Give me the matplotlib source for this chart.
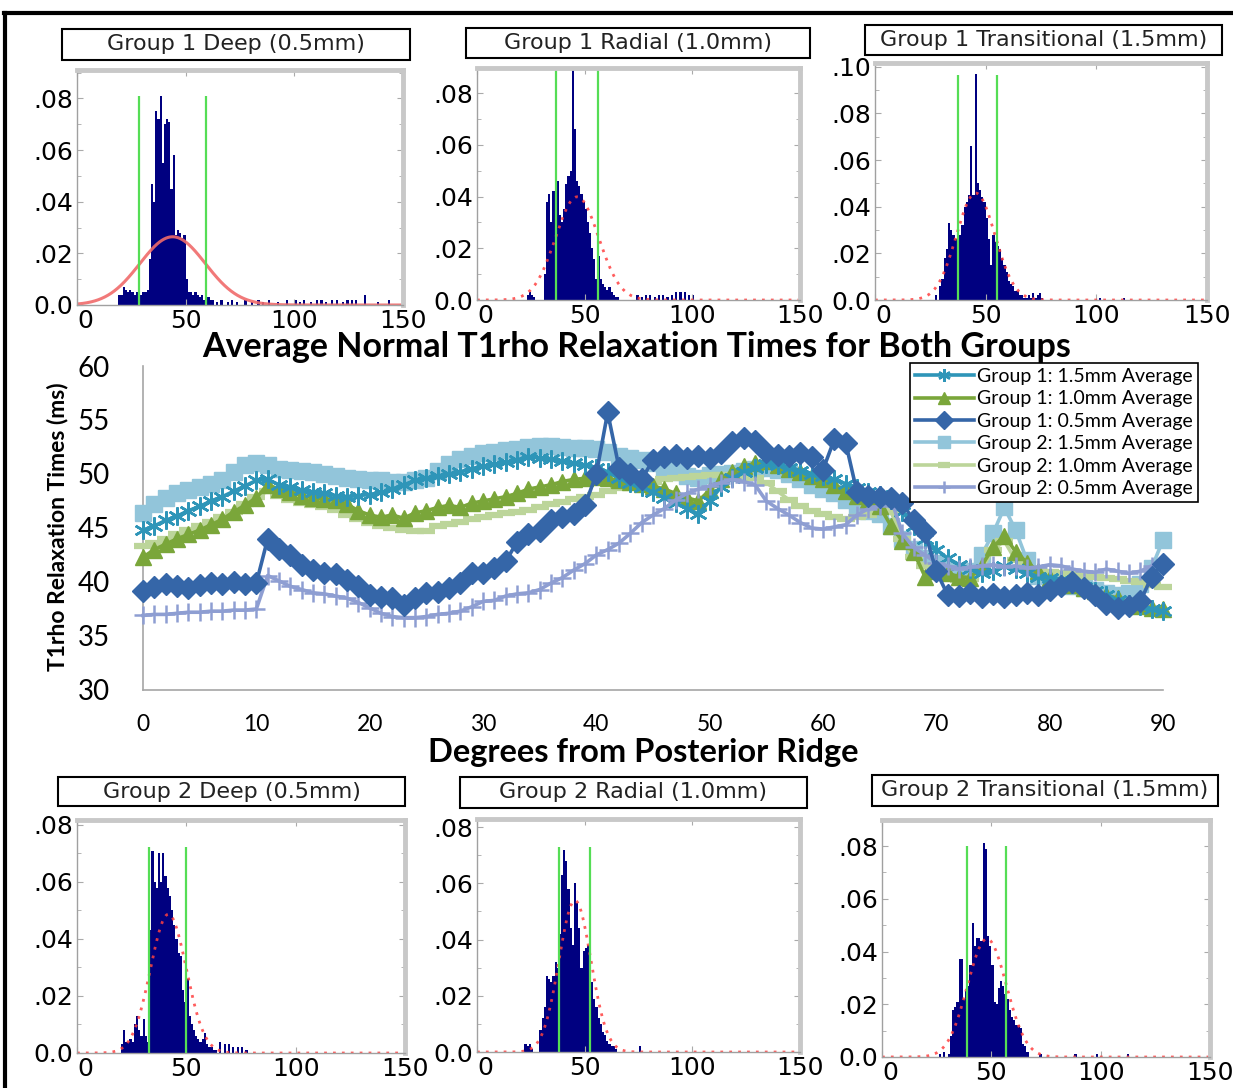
import numpy as np
import matplotlib
matplotlib.use('Agg')
import matplotlib.pyplot as plt
from matplotlib.lines import Line2D
from matplotlib.patches import Rectangle
from matplotlib.ticker import FuncFormatter, MultipleLocator

W, H = 1233, 1088

# ---- main chart data (one value per degree, 0..90) ----
degrees = np.arange(0, 91)
g1_15mm = [44.8, 45.2, 45.7, 46.1, 46.6, 47.0, 47.5, 47.9, 48.4, 48.9, 49.4,
           49.5, 49.0, 48.8, 48.5, 48.3, 48.2, 48.0, 47.9, 48.0, 48.1,
           48.3, 48.6, 49.0, 49.4, 49.6, 49.8, 50.0, 50.2, 50.5, 50.7,
           50.9, 51.1, 51.3, 51.6, 51.5, 51.4, 51.2, 51.0, 50.8, 50.6,
           50.2, 49.6, 49.2, 48.8, 48.3, 47.8, 47.3, 46.8, 46.3, 47.5,
           48.8, 49.6, 50.2, 50.6, 50.9, 50.8, 50.6, 50.3, 50.0, 49.8,
           49.5, 49.1, 48.7, 48.3, 48.1, 47.6, 46.5, 45.2, 44.0, 43.0,
           42.2, 41.6, 41.2, 40.8, 41.0, 41.5, 41.2, 40.8, 40.5, 40.4,
           40.2, 39.8, 39.5, 39.2, 38.8, 38.3, 38.0, 37.8, 37.5, 37.3]
g1_10mm = [42.3, 43.0, 43.5, 44.0, 44.4, 44.8, 45.3, 45.8, 46.5, 47.1, 47.8,
           49.0, 48.6, 48.3, 48.0, 47.8, 47.7, 47.6, 47.2, 46.6, 46.2,
           46.0, 46.2, 45.9, 46.4, 46.6, 46.9, 47.1, 46.9, 47.3, 47.5,
           47.7, 47.9, 48.2, 48.6, 48.8, 49.0, 49.3, 49.5, 49.6, 49.7,
           49.6, 49.4, 49.3, 49.1, 48.9, 48.6, 48.2, 47.8, 47.5, 48.5,
           49.5, 50.2, 50.7, 51.0, 51.2, 50.8, 50.5, 50.2, 49.8, 49.5,
           49.0, 48.4, 48.0, 47.6, 47.0, 45.2, 43.8, 42.8, 40.5, 41.0,
           40.8, 40.5, 40.4, 41.5, 43.2, 44.3, 42.8, 41.8, 41.0, 40.4,
           40.0, 39.7, 39.4, 39.2, 38.8, 38.5, 38.0, 37.8, 37.6, 37.5]
g1_05mm = [39.2, 39.5, 39.8, 39.6, 39.4, 39.7, 39.9, 39.8, 40.0, 39.8, 39.9,
           44.0, 43.1, 42.5, 41.6, 41.1, 40.8, 40.7, 40.2, 39.6, 38.8,
           38.6, 38.5, 37.9, 38.5, 39.0, 39.1, 39.4, 39.9, 40.8, 40.8,
           41.3, 41.9, 43.7, 44.4, 44.7, 45.7, 46.0, 46.3, 47.1, 50.0,
           55.7, 50.6, 50.0, 49.5, 51.3, 51.6, 51.8, 51.5, 51.7, 51.5,
           51.9, 53.0, 53.3, 53.1, 52.0, 51.8, 51.7, 51.9, 51.6, 50.4,
           53.2, 52.9, 48.3, 48.0, 47.9, 47.8, 47.3, 45.7, 44.6, 41.0,
           38.8, 38.7, 39.0, 38.6, 38.9, 38.6, 38.8, 39.0, 38.8, 39.3,
           39.6, 40.0, 39.4, 38.8, 38.0, 37.6, 37.8, 38.2, 40.5, 41.7]
g2_15mm = [46.4, 47.2, 47.8, 48.2, 48.5, 48.8, 49.1, 49.4, 50.2, 50.8, 51.0,
           50.8, 50.5, 50.4, 50.3, 50.2, 50.0, 49.8, 49.6, 49.5, 49.4,
           49.4, 49.3, 49.3, 49.4, 49.6, 50.3, 50.9, 51.4, 51.7, 51.9,
           52.0, 52.2, 52.3, 52.5, 52.6, 52.6, 52.5, 52.4, 52.4, 52.3,
           52.0, 51.7, 51.5, 51.3, 51.0, 50.6, 50.2, 49.8, 49.6, 49.9,
           50.0, 50.1, 50.3, 50.5, 50.6, 50.4, 50.0, 49.5, 49.0, 48.6,
           48.2, 47.6, 47.0, 46.6, 46.3, 45.2, 44.0, 43.1, 42.2, 41.8,
           41.2, 40.8, 41.0, 42.5, 44.5, 46.9, 44.8, 42.0, 40.6, 40.0,
           39.8, 39.6, 39.4, 39.3, 39.0, 38.8, 39.0, 39.8, 41.3, 43.9]
g2_10mm = [43.3, 43.6, 44.0, 44.4, 44.8, 45.2, 45.6, 46.0, 46.5, 47.2, 47.9,
           48.4, 48.0, 47.6, 47.3, 47.1, 46.9, 46.7, 46.2, 45.8, 45.5,
           45.2, 45.0, 44.8, 44.7, 44.7, 45.2, 45.4, 45.6, 45.8, 46.0,
           46.2, 46.4, 46.5, 46.7, 46.9, 47.2, 47.4, 47.7, 47.9, 48.1,
           48.4, 48.7, 48.9, 49.1, 49.3, 49.5, 49.6, 49.7, 49.8, 49.9,
           49.9, 49.9, 49.8, 49.6, 49.2, 48.4, 47.6, 47.0, 46.6, 46.3,
           46.0, 45.8, 46.0, 46.2, 46.8, 46.5, 44.0, 42.3, 41.5, 40.8,
           40.4, 40.2, 40.3, 41.2, 43.0, 43.8, 42.0, 41.2, 41.0, 40.9,
           40.8, 40.7, 40.6, 40.5, 40.4, 40.3, 40.1, 40.0, 39.7, 39.5]
g2_05mm = [36.9, 37.0, 37.0, 37.1, 37.2, 37.2, 37.3, 37.3, 37.4, 37.4, 37.5,
           40.6, 40.1, 39.6, 39.3, 39.0, 38.9, 38.7, 38.5, 38.1, 37.6,
           37.1, 36.8, 36.7, 36.7, 36.8, 37.0, 37.1, 37.3, 37.7, 38.2,
           38.3, 38.7, 38.9, 39.0, 39.3, 39.9, 40.4, 41.1, 41.7, 42.5,
           43.0, 43.6, 44.5, 45.5, 46.2, 46.8, 47.6, 48.2, 48.6, 48.9,
           49.2, 49.5, 49.3, 49.0, 47.5, 46.8, 46.2, 45.5, 45.0, 44.9,
           45.1, 45.3, 46.2, 46.8, 47.0, 47.7, 44.5, 43.2, 42.5, 41.8,
           41.5, 41.2, 41.4, 41.5, 41.6, 41.4, 41.5, 41.3, 41.4, 41.6,
           41.5, 41.2, 41.0, 40.9, 41.2, 41.0, 40.8, 41.0, 41.5, 41.8]
series_labels = ['Group 1: 1.5mm Average', 'Group 1: 1.0mm Average',
                 'Group 1: 0.5mm Average', 'Group 2: 1.5mm Average',
                 'Group 2: 1.0mm Average', 'Group 2: 0.5mm Average']

# ---- histogram data (1-unit bins starting at *_start, sparse tail bars separate) ----
g1_deep_start = 19
g1_deep_h = [.004, .004, .007, .006, .005, .006, .005, .004, .005, .006, .004, .005,
             .005, .006, .018, .047, .040, .075, .072, .081, .055, .070, .072, .071,
             .045, .058, .027, .029, .028, .026, .027, .010, .005, .005, .004, .005,
             .004, .003, .004, .002, .002, .003, .002]
g1_deep_tail_x = [62, 64, 66, 69, 71, 73, 77, 80, 83, 85, 88, 92, 96, 100, 102, 104,
                  107, 110, 112, 114, 117, 119, 122, 124, 126, 128, 132, 138, 143]
g1_deep_tail_h = [.002, .001, .002, .001, .002, .001, .002, .001, .002, .001, .002, .001,
                  .002, .002, .001, .002, .001, .002, .002, .001, .002, .002, .001, .002,
                  .002, .002, .004, .001, .002]
g1_deep_fit = (44.0, 15.1)
g1_deep_green = (28.5, 59.4, 0.0808)

g1_rad_start = 23
g1_rad_h = [.002, .003, .002, .001, 0, 0, 0, 0, .010, .038, .041, .030, .042, .040,
            .046, .033, .030, .035, .045, .048, .050, .089, .066, .046, .044, .041,
            .038, .035, .030, .026, .020, .016, .008, .017, .008, .006, .005, .004,
            .005, .003, .002, .001, .001]
g1_rad_tail_x = [74, 76, 78, 80, 82, 84, 86, 88, 90, 92, 94, 96, 98, 100]
g1_rad_tail_h = [.002, .001, .002, .002, .001, .002, .002, .001, .002, .003, .003,
                 .003, .002, .002]
g1_rad_fit = (46.5, 10.0)
g1_rad_green = (36.7, 56.0, 0.0897)

g1_trans_start = 27
g1_trans_h = [.002, 0, .006, .009, .018, .022, .033, .030, .028, .026, .047, .028,
              .032, .040, .042, .045, .066, .045, .097, .050, .047, .044, .042, .035,
              .026, .015, .028, .025, .023, .022, .018, .015, .012, .008, .007, .006,
              .004, .004, .002, .002, .001, .001, .002, .001, .003, .001, .002, .003,
              .001]
g1_trans_tail_x = [101, 112]
g1_trans_tail_h = [.001, .001]
g1_trans_fit = (45.5, 8.7)
g1_trans_green = (37.7, 55.0, 0.0964)

g2_deep_start = 20
g2_deep_h = [.003, .008, .004, .004, .005, .004, .010, .013, .008, .006, .012, .006,
             .004, .043, .071, .060, .058, .070, .060, .070, .062, .058, .055, .050,
             .045, .040, .035, .034, .022, .018, .026, .013, .010, .008, .006, .005,
             .004, .005, .007, .003, .002, .002, .001, .001]
g2_deep_tail_x = [65, 67, 69, 71, 73, 75, 77]
g2_deep_tail_h = [.004, .003, .003, .002, .002, .002, .001]
g2_deep_fit = (41.8, 8.2)
g2_deep_green = (33.1, 49.8, 0.0722)

g2_rad_start = 22
g2_rad_h = [.003, .002, .003, .001, 0, 0, 0, .008, .012, .016, .027, .026, .025,
            .027, .032, .030, .042, .063, .072, .068, .058, .044, .038, .060, .053,
            .044, .030, .036, .037, .038, .030, .025, .019, .016, .012, .010, .007,
            .006, .004, .003, .002, .002, .001]
g2_rad_tail_x = [75]
g2_rad_tail_h = [.002]
g2_rad_fit = (45.5, 7.4)
g2_rad_green = (38.2, 52.5, 0.0731)

g2_trans_start = 26
g2_trans_h = [.001, 0, .002, 0, .001, .008, .018, .019, .021, .037, .037, .022, .025,
              .027, .035, .051, .042, .045, .045, .044, .081, .079, .046, .042, .035,
              .021, .020, .026, .029, .027, .024, .022, .018, .015, .014, .012, .012,
              .011, .005, .004, .002]
g2_trans_tail_x = [72, 88, 98, 112]
g2_trans_tail_h = [.001, .001, .001, .001]
g2_trans_fit = (48.0, 8.9)
g2_trans_green = (38.7, 56.5, 0.080)

hist_xticks = [0, 50, 100, 150]


def rect(x0, y0, x1, y1):
    return [x0 / W, 1 - y1 / H, (x1 - x0) / W, (y1 - y0) / H]


fig = plt.figure(figsize=(W / 100, H / 100), dpi=100)

# outer black frame (cut at right and bottom)
fig.add_artist(Line2D([4 / W, 1.0], [1 - 13 / H, 1 - 13 / H], color='black', lw=3,
                      transform=fig.transFigure))
fig.add_artist(Line2D([5 / W, 5 / W], [0, 1 - 13 / H], color='black', lw=3,
                      transform=fig.transFigure))

# ---- main line chart ----
ax = fig.add_axes(rect(143, 366, 1163, 690))
styles = [
    (g1_15mm, '#2E95B8', (6, 2, 0), 13, 1.8, 3.3),
    (g1_10mm, '#7AA63A', '^', 12, 1.0, 3.2),
    (g1_05mm, '#3566A8', 'D', 11, 1.0, 3.5),
    (g2_15mm, '#92C5DA', 's', 11.5, 1.0, 3.0),
    (g2_10mm, '#BCD59A', '_', 13, 4.5, 3.1),
    (g2_05mm, '#8E9ED2', '+', 13, 1.8, 3.4),
]
for (vals, col, mk, ms, mew, z), lab in zip(styles, series_labels):
    ax.plot(degrees, vals, color=col, lw=2.6, marker=mk, ms=ms, mew=mew,
            mec=col, mfc=col, label=lab, clip_on=False, zorder=z)

ax.set_xlim(0, 90)
ax.set_ylim(30, 60)
ax.set_xticks(range(0, 91, 10))
ax.set_yticks(range(30, 61, 5))
ax.set_xticklabels([str(v) for v in range(0, 91, 10)], fontfamily='Lato', fontsize=16.5)
ax.set_yticklabels([str(v) for v in range(30, 61, 5)], fontfamily='Lato', fontsize=20)
ax.tick_params(axis='both', length=0)
ax.tick_params(axis='y', pad=24)
ax.tick_params(axis='x', pad=17)
for s in ['top', 'right']:
    ax.spines[s].set_visible(False)
for s in ['left', 'bottom']:
    ax.spines[s].set_color('#A6A6A6')
    ax.spines[s].set_linewidth(1.2)

leg = ax.legend(loc='upper right', bbox_to_anchor=(1198 / W, 1 - 363 / H),
                bbox_transform=fig.transFigure, frameon=True, fancybox=False,
                edgecolor='black', framealpha=1, prop={'family': 'Lato', 'size': 14},
                handlelength=3.0, handletextpad=0.2, labelspacing=0.28,
                borderpad=0.25, borderaxespad=0)
leg.get_frame().set_linewidth(1.2)
for hl in leg.legend_handles:
    hl.set_markersize(9)

fig.text(637 / W, 1 - 347 / H, 'Average Normal T1rho Relaxation Times for Both Groups',
         ha='center', va='center', fontsize=24.5, fontweight='bold', fontfamily='Lato')
fig.text(643 / W, 1 - 738 / H, 'Degrees from Posterior Ridge', ha='center', va='top',
         fontsize=23.5, fontweight='bold', fontfamily='Lato')
fig.text(58 / W, 1 - 527 / H, 'T1rho Relaxation Times (ms)', ha='center', va='center',
         rotation=90, fontsize=16.5, fontweight='bold', fontfamily='Lato')

# ---- histograms ----
hists = [
    ('Group 1 Deep (0.5mm)', (62, 29, 410, 60), (77, 70, 403, 305), 0.091,
     g1_deep_start, g1_deep_h, g1_deep_tail_x, g1_deep_tail_h, g1_deep_fit, g1_deep_green, '-'),
    ('Group 1 Radial (1.0mm)', (466, 28, 810, 58), (477, 68, 800, 300), 0.0897,
     g1_rad_start, g1_rad_h, g1_rad_tail_x, g1_rad_tail_h, g1_rad_fit, g1_rad_green, ':'),
    ('Group 1 Transitional (1.5mm)', (865, 25, 1222, 55), (875, 63, 1207, 300), 0.1016,
     g1_trans_start, g1_trans_h, g1_trans_tail_x, g1_trans_tail_h, g1_trans_fit, g1_trans_green, ':'),
    ('Group 2 Deep (0.5mm)', (58, 777, 405, 806), (77, 820, 405, 1053), 0.0817,
     g2_deep_start, g2_deep_h, g2_deep_tail_x, g2_deep_tail_h, g2_deep_fit, g2_deep_green, ':'),
    ('Group 2 Radial (1.0mm)', (460, 777, 807, 808), (477, 819, 800, 1052), 0.0829,
     g2_rad_start, g2_rad_h, g2_rad_tail_x, g2_rad_tail_h, g2_rad_fit, g2_rad_green, ':'),
    ('Group 2 Transitional (1.5mm)', (872, 775, 1218, 806), (882, 820, 1210, 1057), 0.0899,
     g2_trans_start, g2_trans_h, g2_trans_tail_x, g2_trans_tail_h, g2_trans_fit, g2_trans_green, ':'),
]

fmt = FuncFormatter(lambda v, p: '0.0' if abs(v) < 1e-9 else ('%.2f' % v)[1:])
xs = np.linspace(0, 150, 600)

for title, box, arect, ymax, start, heights, tx, th, fit, green, ls in hists:
    bx0, by0, bx1, by1 = box
    fig.add_artist(Rectangle((bx0 / W, 1 - by1 / H), (bx1 - bx0) / W, (by1 - by0) / H,
                             transform=fig.transFigure, facecolor='white',
                             edgecolor='black', lw=1.5))
    fig.text((bx0 + bx1) / 2 / W, 1 - (by0 + by1) / 2 / H, title, ha='center',
             va='center', fontsize=16, color='#222222')

    hx = fig.add_axes(rect(*arect))
    hx.bar(start + np.arange(len(heights)), heights, width=1.0, align='edge',
           color='#000080', lw=0)
    hx.bar(tx, th, width=1.0, align='edge', color='#000080', lw=0)
    mu, sd = fit
    pdf = np.exp(-0.5 * ((xs - mu) / sd) ** 2) / (sd * np.sqrt(2 * np.pi))
    if ls == '-':
        hx.plot(xs, pdf, color='#F06A6A', lw=2.2, alpha=0.9)
    else:
        hx.plot(xs, pdf, color='#FF4040', lw=2.0, ls=(0, (1, 2.2)), alpha=0.85)
    hx.vlines([green[0], green[1]], 0, green[2], color='#55DD55', lw=1.6)

    hx.set_xlim(0, 150)
    hx.set_ylim(0, ymax)
    hx.set_xticks(hist_xticks)
    hx.set_xticklabels([str(v) for v in hist_xticks])
    top = 0.10 if ymax > 0.1 else 0.08
    hx.set_yticks(np.arange(0, top + 0.001, 0.02))
    hx.yaxis.set_minor_locator(MultipleLocator(0.01))
    hx.yaxis.set_major_formatter(fmt)
    hx.tick_params(axis='both', which='both', direction='in', colors='#AAAAAA',
                   labelcolor='black', labelsize=18, length=4, top=True, right=True, pad=3)
    hx.tick_params(axis='y', which='minor', length=3)
    # keep the corner "0" clear of the "0.0" label
    hx.get_xticklabels()[0].set_horizontalalignment('left')
    for s in ['left', 'bottom']:
        hx.spines[s].set_color('#A0A0A0')
        hx.spines[s].set_linewidth(1.0)
    for s in ['top', 'right']:
        hx.spines[s].set_color('#C8C8C8')
        hx.spines[s].set_linewidth(3.5)

fig.savefig('out.png', dpi=100)
